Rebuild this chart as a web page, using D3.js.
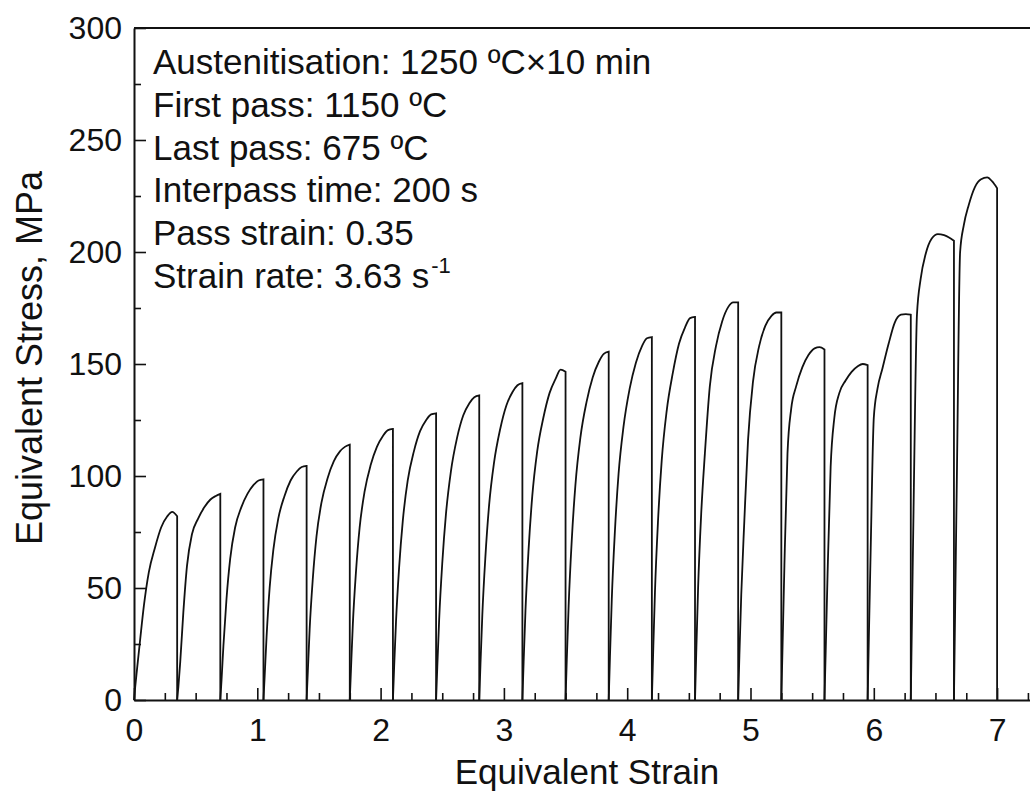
<!DOCTYPE html>
<html>
<head>
<meta charset="utf-8">
<script src="https://cdn.jsdelivr.net/npm/d3@7"></script>
<style>
  body { margin: 0; background: #fff; }
  text { font-family: "Liberation Sans", Arial, sans-serif; fill: #111; }
</style>
</head>
<body>
<div id="chart"></div>
<script>
// strain offsets inside one pass (pass strain 0.35)
const passStrain = 0.35;
const offsets = [0, 0.01, 0.025, 0.05, 0.08, 0.12, 0.17, 0.22, 0.27, 0.31, 0.35];

// stress (MPa) read at each offset, pass by pass
const pass01 = [0, 6, 14, 27, 42, 57, 68, 77, 82, 84, 82];
const pass02 = [0, 6, 17, 39, 60, 74, 81, 86, 89.5, 91, 92];
const pass03 = [0, 9, 24, 45, 63, 77, 86, 92, 96, 98, 98.5];
const pass04 = [0, 11, 28, 50, 67, 81, 91, 98, 102, 104, 104.5];
const pass05 = [0, 13, 32, 54, 73, 88, 99, 106.5, 111, 113, 114];
const pass06 = [0, 14, 34, 57, 77, 93, 105, 113, 118, 120.5, 121];
const pass07 = [0, 15, 35, 59, 80, 98, 111, 120, 125, 127.5, 128];
const pass08 = [0, 15, 36, 61, 83, 102, 117, 127, 132.5, 135.2, 136];
const pass09 = [0, 16, 38, 64, 87, 106, 121, 131.5, 137.5, 140.5, 141.5];
const pass10 = [0, 17, 40, 67, 91, 111, 126, 137, 143.5, 147.5, 146.5];
const pass11 = [0, 18, 42, 71, 96, 117, 133, 144, 151, 154.5, 155.5];
const pass12 = [0, 19, 45, 75, 101, 122, 139, 150.5, 158, 161.5, 162];
const pass13 = [0, 20, 48, 80, 107, 129, 146, 159, 166.5, 170.5, 171];
const pass14 = [0, 21, 50, 83, 110, 140, 158, 169, 175.5, 177.5, 177.5];
const pass15 = [0, 20, 47, 80, 116, 142, 158, 167, 171.5, 173, 173];
const pass16 = [0, 24, 60, 110, 130, 140, 148.5, 154, 157, 157.5, 156.5];
const pass17 = [0, 22, 56, 104, 126, 137, 142.5, 146.5, 149, 150, 149.5];
const pass18 = [0, 28, 68, 126, 139, 148, 159, 168.5, 172, 172.3, 172];
const pass19 = [0, 38, 95, 172, 188, 199, 206, 208, 207.5, 206.5, 205];
const pass20 = [0, 42, 105, 200, 212, 221, 229, 232.5, 233.3, 231.5, 228.5];
const passes = [pass01, pass02, pass03, pass04, pass05, pass06, pass07, pass08, pass09, pass10,
  pass11, pass12, pass13, pass14, pass15, pass16, pass17, pass18, pass19, pass20];

const xTicks = [0, 1, 2, 3, 4, 5, 6, 7];
const xMinor = [0.25, 0.5, 0.75, 1.25, 1.5, 1.75, 2.25, 2.5, 2.75, 3.25, 3.5, 3.75,
  4.25, 4.5, 4.75, 5.25, 5.5, 5.75, 6.25, 6.5, 6.75, 7.25];
const yTicks = [0, 50, 100, 150, 200, 250, 300];
const yMinor = [25, 75, 125, 175, 225, 275];

const notes = [
  "Austenitisation: 1250 \u00baC\u00d710 min",
  "First pass: 1150 \u00baC",
  "Last pass: 675 \u00baC",
  "Interpass time: 200 s",
  "Pass strain: 0.35",
  "Strain rate: 3.63 s"
];

const W = 1030, H = 792;
const m = { t: 28, r: 0, b: 92, l: 134 };
const svg = d3.select("#chart").append("svg").attr("width", W).attr("height", H);

const x = d3.scaleLinear().domain([0, 7.3]).range([m.l, m.l + 7.3 * 123.3]);
const y = d3.scaleLinear().domain([0, 300]).range([H - m.b, m.t]);

// frame top line (right side is cropped off)
svg.append("line").attr("x1", m.l).attr("x2", W).attr("y1", m.t).attr("y2", m.t)
  .attr("stroke", "#111").attr("stroke-width", 2);

svg.append("g").attr("transform", `translate(${m.l},0)`)
  .call(d3.axisLeft(y).tickValues(yTicks).tickSize(-12).tickSizeOuter(0).tickPadding(12));
svg.append("g").attr("transform", `translate(${m.l},0)`)
  .call(d3.axisLeft(y).tickValues(yMinor).tickSize(-7).tickFormat("")).select(".domain").remove();

const xAx = svg.append("g").attr("transform", `translate(0,${H - m.b})`)
  .call(d3.axisBottom(x).tickValues(xTicks).tickSize(-12).tickSizeOuter(0).tickPadding(18));
svg.append("g").attr("transform", `translate(0,${H - m.b})`)
  .call(d3.axisBottom(x).tickValues(xMinor).tickSize(-7).tickFormat("")).select(".domain").remove();

svg.selectAll(".domain").attr("stroke", "#111").attr("stroke-width", 2);
svg.selectAll(".tick line").attr("stroke", "#111").attr("stroke-width", 1.6);
svg.selectAll(".tick text").style("font-size", "32px").attr("fill", "#111");
xAx.selectAll(".tick text").attr("dy", "0.71em");

// curves: each pass rises from zero, then unloads vertically
const line = d3.line().x(d => x(d[0])).y(d => y(d[1])).curve(d3.curveMonotoneX);
const gC = svg.append("g");
passes.forEach((vals, i) => {
  const s0 = i * passStrain;
  const pts = vals.map((v, j) => [s0 + offsets[j], v]);
  const end = s0 + passStrain;
  gC.append("path")
    .attr("d", line(pts) + `L${x(end)},${y(0)}`)
    .attr("fill", "none").attr("stroke", "#111").attr("stroke-width", 1.8);
});

// annotation block
const gN = svg.append("g").style("font-size", "35px");
notes.forEach((t, i) => {
  const tx = gN.append("text").attr("x", 153).attr("y", 74 + i * 42.8).text(t);
  if (i === notes.length - 1) {
    tx.append("tspan").attr("dy", -15).attr("dx", 2).style("font-size", "22px").text("-1");
  }
});

// axis titles
svg.append("text").attr("x", 587).attr("y", 784).attr("text-anchor", "middle")
  .style("font-size", "35px").text("Equivalent Strain");
svg.append("text").attr("transform", "translate(42,358) rotate(-90)")
  .attr("text-anchor", "middle").style("font-size", "36px").text("Equivalent Stress,  MPa");
</script>
</body>
</html>
